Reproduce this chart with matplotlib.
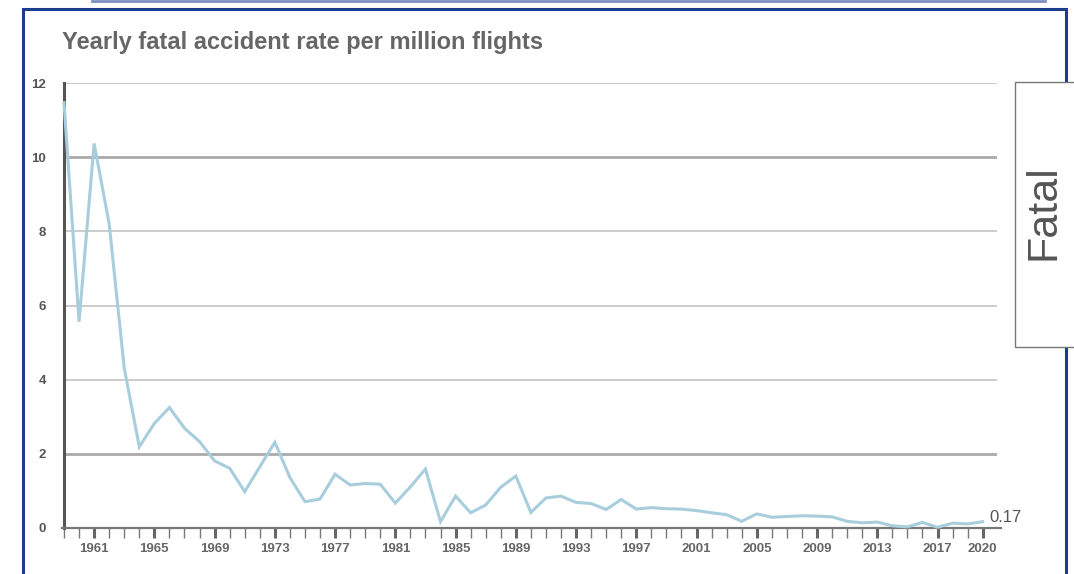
import numpy as np
import matplotlib.pyplot as plt
from matplotlib.patches import Rectangle

plt.rcParams['font.family'] = ['Liberation Sans', 'DejaVu Sans']

# fatal accidents per million flights
years = list(range(1959, 2021))
rate = [11.47, 5.56, 10.37, 8.2, 4.31, 2.19, 2.82, 3.25, 2.69, 2.33,
        1.81, 1.61, 0.98, 1.65, 2.31, 1.36, 0.71, 0.78, 1.45, 1.16,
        1.2, 1.18, 0.67, 1.11, 1.59, 0.17, 0.86, 0.41, 0.62, 1.1,
        1.4, 0.42, 0.81, 0.86, 0.69, 0.66, 0.5, 0.77, 0.51, 0.55,
        0.52, 0.51, 0.47, 0.41, 0.36, 0.18, 0.38, 0.29, 0.31, 0.33,
        0.32, 0.3, 0.18, 0.14, 0.16, 0.06, 0.03, 0.15, 0.02, 0.13,
        0.11, 0.17]
yticks = [0, 2, 4, 6, 8, 10, 12]
label_years = list(range(1961, 2018, 4)) + [2020]

W, H = 1074, 574
fig = plt.figure(figsize=(W / 100, H / 100), dpi=100)
ax = fig.add_axes([64 / W, (H - 528) / H, 933 / W, 445 / H])

ax.plot(years, rate, color='#a8cedd', lw=2.2, solid_joinstyle='miter',
        clip_on=False, zorder=3)

ax.set_xlim(1959, 2020.95)
ax.set_ylim(0, 12)

for s in ['top', 'right']:
    ax.spines[s].set_visible(False)
ax.spines['left'].set_color('#555555')
ax.spines['left'].set_linewidth(2.2)
ax.spines['bottom'].set_color('#777777')
ax.spines['bottom'].set_linewidth(1.6)
ax.spines['bottom'].set_bounds(1958.9, 2021.2)

ax.set_yticks(yticks)
ax.set_yticklabels([str(v) for v in yticks])
ax.tick_params(axis='y', length=0, pad=13, labelsize=9.5,
               labelcolor='#555555')
for lab in ax.get_yticklabels():
    lab.set_fontweight('bold')

ax.set_xticks(label_years)
ax.set_xticklabels([str(y) for y in label_years])
ax.set_xticks(years, minor=True)
ax.tick_params(axis='x', which='major', length=7, width=2.2,
               color='#666666', pad=4, labelsize=9.5, labelcolor='#666666')
ax.tick_params(axis='x', which='minor', length=7, width=1.0,
               color='#777777')
for lab in ax.get_xticklabels():
    lab.set_fontweight('bold')

ax.grid(axis='y', color='#cccccc', lw=1.4)
for v, tk in zip(yticks, ax.yaxis.get_major_ticks()):
    if v in (2, 10):
        tk.gridline.set_color('#aaaaaa')
        tk.gridline.set_linewidth(2.0)
    if v == 0:
        tk.gridline.set_visible(False)
ax.set_axisbelow(True)

ax.annotate(f'{rate[-1]:.2f}', xy=(years[-1], rate[-1]),
            xytext=(5, 0), textcoords='offset points',
            fontsize=12, color='#555555', va='baseline', ha='left')

fig.text(62 / W, 1 - 42 / H, 'Yearly fatal accident rate per million flights',
         fontsize=17, fontweight='bold', color='#666666', va='center')

# outer frame and side box
fig.patches.append(Rectangle((23 / W, -0.05), 1043 / W, 1.05 - 9 / H,
                             transform=fig.transFigure, fill=False,
                             edgecolor='#1c3d8c', lw=2.2))
fig.lines.append(plt.Line2D([92 / W, 1045 / W], [1 - 1 / H, 1 - 1 / H],
                            transform=fig.transFigure, color='#7b90c0',
                            lw=2))
fig.patches.append(Rectangle((1015 / W, 1 - 347 / H), 60 / W, 265 / H,
                             transform=fig.transFigure, facecolor='white',
                             edgecolor='#777777', lw=1.0))
fig.text(1044 / W, 1 - 212 / H, 'Fatal', rotation=90, fontsize=31,
         color='#555555', ha='center', va='center')

fig.savefig('out.png', dpi=100)
